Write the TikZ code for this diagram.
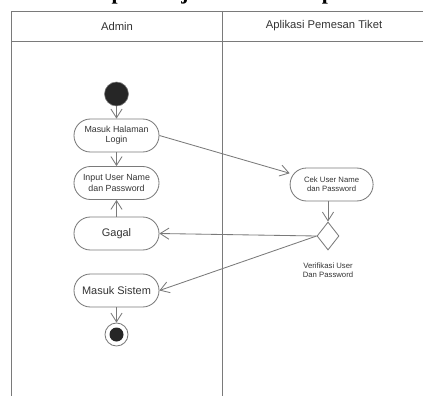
\documentclass[tikz,border=0pt]{standalone}
\usepackage{fontspec}
\setmainfont{Liberation Sans}
\newfontfamily\headserif{Liberation Serif}
\usetikzlibrary{shapes.geometric, arrows.meta}

\definecolor{lanegray}{HTML}{7A7A7A}
\definecolor{txtgray}{HTML}{333333}

\tikzset{
    lane/.style={draw=lanegray, line width=0.7pt},
    activity/.style={draw=lanegray, line width=0.6pt, rounded corners=0.41cm,
        minimum width=2.125cm, minimum height=0.825cm, inner sep=1pt,
        align=center, text=txtgray, font=\fontsize{6.3}{7.4}\selectfont},
    bigactivity/.style={activity, font=\fontsize{7.8}{9}\selectfont},
    flow/.style={draw=lanegray, line width=0.6pt,
        -{Straight Barb[length=2.2mm, width=2.8mm]}},
}

\begin{document}
\begin{tikzpicture}

    \useasboundingbox (0,0) rectangle (10.575,-9.875);
    \clip (0,0) rectangle (10.575,-9.875);

    % cut-off heading line above the diagram
    \node[anchor=base west, inner sep=0, font=\headserif\bfseries\fontsize{15.5}{18}\selectfont]
        (cut) at (-0.12,0.02) {r tidak mampu menjelaskan detail proses};

    % swimlanes
    \draw[lane] (10.7,-0.275) -- (0.275,-0.275) -- (0.275,-10);
    \draw[lane] (0.275,-1.025) -- (10.7,-1.025);
    \draw[lane] (5.55,-0.275) -- (5.55,-10);

    \node[text=txtgray, font=\fontsize{8}{10}\selectfont] (admin) at (2.925,-0.65) {Admin};
    \node[text=txtgray, font=\fontsize{8}{10}\selectfont] (app) at (8.1,-0.65) {Aplikasi Pemesan Tiket};

    % Admin lane
    \node[circle, fill=black!85, draw=lanegray, minimum size=0.6cm, inner sep=0] (start) at (2.9125,-2.35) {};

    \node[activity] (login) at (2.9125,-3.3875) {Masuk Halaman\\Login};
    \node[activity] (input) at (2.9125,-4.575) {Input User Name\\dan Password};
    \node[bigactivity] (gagal) at (2.9125,-5.8375) {Gagal};
    \node[bigactivity] (sistem) at (2.9125,-7.2625) {Masuk Sistem};

    \node[circle, draw=lanegray, line width=0.6pt, minimum size=0.575cm, inner sep=0] (stop) at (2.9125,-8.3625) {};
    \node[circle, fill=black!85, minimum size=0.35cm, inner sep=0] (stopdot) at (stop) {};

    % Aplikasi lane
    \node[activity, minimum width=2.075cm, font=\fontsize{5.5}{6.6}\selectfont] (cek) at (8.29,-4.6125) {Cek User Name\\dan Password};
    \node[diamond, draw=lanegray, line width=0.6pt, minimum width=0.55cm, minimum height=0.7cm, inner sep=0] (dia) at (8.2,-5.9) {};
    \node[below=0.2cm, align=center, text=txtgray, font=\fontsize{5.5}{6.4}\selectfont] (dialabel) at (dia.south) {Verifikasi User\\Dan Password};

    % flows
    \draw[flow] (start) -- (login);
    \draw[flow] (login) -- (input);
    \draw[flow] (login.east) -- (cek.165);
    \draw[flow] (cek.south -| dia.north) -- (dia.north);
    \draw[flow] (dia.west) -- (gagal.east);
    \draw[flow] (dia.west) -- (sistem.east);
    \draw[flow] (gagal) -- (input);
    \draw[flow] (sistem) -- (stop);
\end{tikzpicture}
\end{document}
